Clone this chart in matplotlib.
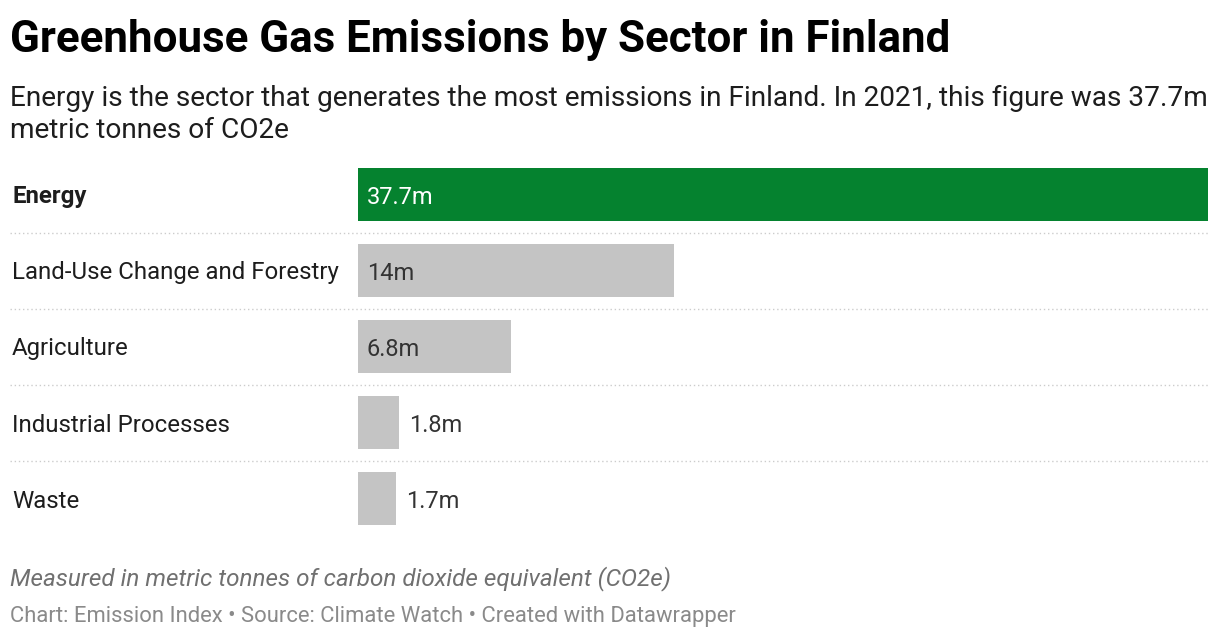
import numpy as np
import matplotlib
matplotlib.use('agg')
import matplotlib.pyplot as plt
import matplotlib.transforms as mtrans

# data
sectors = ['Energy', 'Land-Use Change and Forestry', 'Agriculture', 'Industrial Processes', 'Waste']
emissions = [37.7, 14.0, 6.8, 1.8, 1.7]
value_labels = ['37.7m', '14m', '6.8m', '1.8m', '1.7m']

plt.rcParams['font.family'] = ['Roboto', 'DejaVu Sans']

W, H = 1220, 640
fig = plt.figure(figsize=(W / 100, H / 100), dpi=100)
fig.patch.set_facecolor('white')

# bar area in pixels: x 358..1208, rows 156.5..536.5
ax = fig.add_axes([358 / W, (H - 536.5) / H, 850 / W, 380 / H])
ax.set_xlim(0, emissions[0])
ax.set_ylim(len(sectors) - 0.5, -0.5)
ax.axis('off')

y = np.arange(len(sectors))
colors = ['#05822f'] + ['#c4c4c4'] * (len(sectors) - 1)
ax.barh(y, emissions, height=53 / 76, color=colors, left=0)

blend = mtrans.blended_transform_factory(fig.transFigure, ax.transData)
px = 1.0 / (850 / emissions[0])  # data units per pixel

for i, (name, val, lab) in enumerate(zip(sectors, emissions, value_labels)):
    ax.text(12 / W, i, name, transform=blend, ha='left', va='center_baseline',
            fontsize=17.3, color='#1d1d1d', fontweight='bold' if i == 0 else 'normal')
    if val * (850 / emissions[0]) > 80:
        c = 'white' if i == 0 else '#333333'
        ax.text(9 * px, i, lab, ha='left', va='center_baseline', fontsize=17, color=c)
    else:
        ax.text(val + 10 * px, i, lab, ha='left', va='center_baseline', fontsize=17, color='#333333')
    if i < len(sectors) - 1:
        ax.plot([10 / W, 1208 / W], [i + 0.5, i + 0.5], transform=blend, clip_on=False,
                color='#cccccc', linestyle=(0, (1, 2)), linewidth=1)

fig.text(10 / W, 1 - 52 / H, 'Greenhouse Gas Emissions by Sector in Finland',
         fontsize=31.6, fontweight='bold', color='black', va='baseline')
fig.text(10 / W, 1 - 106 / H,
         'Energy is the sector that generates the most emissions in Finland. In 2021, this figure was 37.7m',
         fontsize=20.2, color='#1d1d1d', va='baseline')
fig.text(10 / W, 1 - 138 / H, 'metric tonnes of CO2e', fontsize=20.2, color='#1d1d1d', va='baseline')

fig.text(10 / W, 1 - 585 / H, 'Measured in metric tonnes of carbon dioxide equivalent (CO2e)',
         fontsize=17.5, style='italic', color='#707070', va='baseline')
fig.text(10 / W, 1 - 622 / H,
         'Chart: Emission Index \u2022 Source: Climate Watch \u2022 Created with Datawrapper',
         fontsize=15.8, color='#8a8a8a', va='baseline')

fig.savefig('out.png', dpi=100, facecolor='white')
